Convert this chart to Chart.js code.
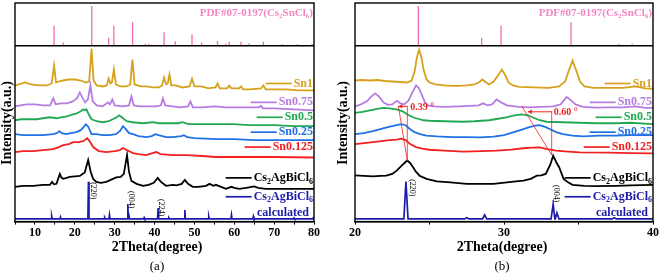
<!DOCTYPE html>
<html>
<head>
<meta charset="utf-8">
<script src="https://cdn.jsdelivr.net/npm/chart.js@4.4.1/dist/chart.umd.min.js"></script>
<style>
  body { margin: 0; background: #fff; }
  .panel { position: absolute; top: 0; height: 275px; }
</style>
</head>
<body>
<div class="panel" style="left:0;width:330px"><canvas id="chartA"></canvas></div>
<div class="panel" style="left:330px;width:331px"><canvas id="chartB"></canvas></div>
<script>
// ---------- data (2theta, intensity a.u. with stacking offset) ----------
const seriesNames = ['Sn1', 'Sn0.75', 'Sn0.5', 'Sn0.25', 'Sn0.125', 'Cs2AgBiCl6', 'Cs2AgBiCl6', 'calculated'];

// panel (a), 5-80 deg
const sn1A = [[5,137],[6,138],[7.5,140],[9,138],[11,137],[13,137],[14.2,139],[14.8,157],[15.3,140],[16,141],[17,142],[18.5,143],[20,143],[21.5,142],[22.8,140],[23.6,141],[24.2,174],[24.7,142],[25.5,137],[27,136],[28,137],[28.5,144],[28.9,139],[29.3,140],[29.8,153],[30.3,138],[31.5,136],[33,136],[33.9,138],[34.45,163],[35,138],[36.5,136],[38,136],[39.5,135],[41,135],[41.9,137],[42.4,145],[42.9,138],[43.3,139],[43.75,148],[44.2,137],[45.3,137],[47,135],[48.8,136],[49.4,144],[50,136],[51.8,136],[53.5,134],[55.3,135],[55.8,139],[56.4,134],[58.2,134],[58.75,137],[59.3,134],[61.2,134],[61.7,136],[62.2,133],[64,133],[66.7,134],[67.3,137],[67.9,133],[70,133],[73,133],[76,132],[80,132]];
const sn075A = [[5,116],[6.3,117],[8,118],[10,118],[12,117],[13.8,117],[14.6,124],[15.2,118],[16.5,119],[18,119],[19.5,121],[20.5,124],[21.25,130],[22,124],[22.6,120],[23.3,123],[23.9,137],[24.5,121],[25.5,117],[27,116],[28.3,120],[28.8,118],[29.4,123],[30,117],[32,116],[33.6,117],[34.2,126],[34.8,117],[36.5,116],[38.5,116],[40.5,116],[41.6,117],[42.1,124],[42.7,117],[44.5,116],[46.5,115],[48.4,116],[49,121],[49.6,115],[52,115],[55,116],[58,115],[62,115],[66.2,115],[66.7,116.5],[67.2,114],[70,114],[75,113],[80,112]];
const sn05A = [[5,102],[6.5,103],[8.75,103],[10.5,103],[12,104],[13.75,105],[15.4,104],[16.5,105],[18,106],[19.5,108],[20.5,109],[21.5,111],[22.1,113],[22.5,112],[22.9,113],[23.5,108],[24.2,103],[25.5,101],[27,100],[28.5,101],[29.5,103],[30.5,105],[31.1,107],[31.8,105],[33,101],[34.5,100],[37,99],[39.6,100],[41,99],[43.75,99],[46,99],[47,100],[48.5,98],[52,98],[56,98],[59.5,98],[64,97],[70,97],[75,96],[80,96]];
const sn025A = [[5,88],[7,87],[9.6,87],[12,87],[14.6,88],[15.5,89],[16.1,91],[16.7,89],[17.9,88],[19,89],[20.4,90],[21.5,92],[22.2,95],[22.75,98],[23.3,96],[24.2,88],[25.4,88],[27,87],[28.75,87],[30.3,88],[31.3,91],[32.1,96],[32.8,93],[33.6,89],[34.6,88],[36,86],[38,85],[39.3,86],[40.2,88],[41,87],[42.9,85],[44.5,85],[46.7,86],[47.4,87],[48.2,85],[50,84],[55.4,83],[60,83],[65,82],[70,82],[75,82],[80,82]];
const sn0125A = [[5,70],[7,71],[9.6,71],[12,72],[14.6,73],[16,75],[17.1,77],[18.5,78],[19.6,80],[21,80],[22.1,81],[23.1,84],[23.7,81],[24.6,75],[26,71],[27.9,70],[30,71],[31.3,72],[32.1,74],[33,72],[34.6,69],[36,68],[37.9,67],[39.5,69],[40.4,70],[41.5,68],[44.6,67],[48,67],[52,66],[55.4,65],[60,65],[70,65],[80,64.5]];
const expA = [[5,35],[7,36],[9.6,36],[12,37],[13.75,37],[14.3,40],[14.8,37.5],[15.4,38],[16.25,48],[16.7,44],[17.1,43],[18.75,45],[20,45.5],[21.25,46],[22.5,49.5],[23.35,62],[24,50],[24.6,43],[25.4,40],[26.5,39],[27.9,40],[29,42],[30.4,44.5],[31.5,45],[32.3,48],[33.1,67],[33.6,50],[34.2,41],[35.5,38],[37.1,36],[38.5,37],[39.8,39],[40.8,44],[41.6,40],[42.9,36],[44.6,37],[45.5,36.5],[46.8,38],[47.6,42],[48.4,38],[49.6,35],[51,35],[52.9,36],[53.8,38],[54.8,36],[55.4,37],[57.9,33],[59.3,35],[60,34],[61.25,33],[63,34],[65,35.5],[66,34],[67.9,33],[70,33],[75,33],[80,33]];

// panel (b), 20-40 deg
const sn1B = [[20,142],[20.5,142.5],[21,142],[21.5,142.5],[22,141.5],[22.5,141],[23,140.5],[23.5,140],[23.8,142],[24,151],[24.15,165],[24.3,173],[24.45,166],[24.6,153],[24.8,143],[25,140],[25.4,138],[26,137],[26.5,136.5],[27,136.5],[27.5,137],[28,138],[28.3,140],[28.55,143],[28.8,140],[29,138],[29.3,141],[29.6,147],[29.85,153],[30.1,147],[30.3,140],[30.6,137],[31,135.5],[32,135],[33,134.5],[33.7,136],[34.1,141],[34.35,152],[34.6,162],[34.85,152],[35.1,141],[35.4,136],[36,134.5],[37,134.5],[38,134.5],[38.8,136],[39.5,134],[40,133.7]];
const sn075B = [[20,116],[20.4,118],[20.8,121],[21.1,126],[21.35,129],[21.6,126],[21.9,120],[22.2,117.5],[22.5,118],[22.8,121.5],[23.05,119],[23.3,118],[23.6,122],[23.85,130],[24.1,137],[24.3,134],[24.5,127],[24.7,120],[24.9,117],[25.3,116],[26,115.5],[27,116],[27.7,116.5],[28.3,117],[28.6,119],[28.9,117],[29.2,118],[29.5,123],[29.8,120],[30.2,117],[31,115.5],[31.7,115],[32.5,115.5],[33.3,116],[33.8,118],[34.2,125.5],[34.5,122],[34.8,118],[35.3,115.5],[36.2,114.8],[37,115],[38,115],[38.8,116],[39.5,114.5],[40,114.5]];
const sn05B = [[20,109.5],[20.5,110.5],[21,112],[21.5,113.5],[21.9,114.5],[22.3,114],[22.8,113],[23.2,111],[23.5,108],[23.8,105.5],[24.1,104],[24.6,102],[25,101.5],[26,101],[27.25,100.5],[28,101],[29,102],[29.6,103.5],[30.15,105],[30.7,107],[31.2,108],[31.6,107],[31.9,105],[32.4,102],[32.85,100.5],[34,100],[35,99.5],[36.2,99],[37.5,99],[38.5,99.5],[40,98]];
const sn025B = [[20,88],[20.6,89],[21.2,91],[21.7,93],[22.2,95],[22.8,97],[23.1,98],[23.4,97],[23.7,93],[24,90],[24.35,88],[24.8,86.5],[25.5,85.7],[26.5,85],[27.5,85],[28.4,84.7],[29.3,85.5],[30,87],[30.6,89.7],[31.2,92.5],[31.7,95],[32.1,96.5],[32.4,97],[32.8,95],[33.1,93],[33.5,90],[33.95,88],[34.6,86.5],[35.3,85.7],[36.4,86.5],[37.5,86.5],[38.5,87],[40,87]];
const sn0125B = [[20,78],[20.6,79],[21.2,80],[21.8,81],[22.3,82],[22.8,82.5],[23.1,83.5],[23.4,82],[23.7,78],[24.1,75],[24.5,73.5],[25,72.3],[26,71.5],[27.25,70.5],[28.5,71],[29.5,71.5],[30.5,72.5],[31.3,73.8],[31.9,74.5],[32.4,74.7],[32.9,73],[33.5,71.5],[34.3,70.5],[35.1,69.7],[37,69.5],[38.5,69],[40,68.7]];
const expB = [[20,46.5],[20.6,46],[21.2,45.5],[21.7,46],[22.1,46.3],[22.5,48],[22.8,51.3],[23.05,55],[23.25,58],[23.5,61.5],[23.7,59],[23.9,54.7],[24.1,50],[24.35,46],[24.8,43],[25.5,40.5],[26.4,39.5],[27.5,38],[28.4,38],[29.3,38],[30.2,39.5],[30.8,40.5],[31.3,41.3],[31.8,43],[32.2,46.3],[32.5,46.5],[32.8,48],[33.1,57],[33.3,66.3],[33.5,60],[33.7,54.7],[34,43],[34.3,39.5],[34.6,37],[35.4,36],[36.2,35.7],[37.5,36],[38.5,36.5],[40,37]];

// calculated Cs2AgBiCl6 pattern (peak position, height)
const calcPos = [14.2, 16.4, 23.42, 27.5, 28.7, 33.3, 33.55, 37.4, 40.9, 43.6, 47.6, 53.6, 59.3, 64.8, 75, 79.8];
const calcInt = [2.7, 1.8, 37.5, 1.2, 4, 15, 6, 1.3, 11, 1, 9, 2.5, 4, 2.5, 1, 1];

// PDF#07-0197 Cs2SnCl6 reference sticks (relative intensity)
const pdfPos = [14.8, 17.1, 24.25, 28.5, 29.8, 34.5, 37.7, 38.6, 42.4, 45.2, 49.4, 51.8, 55.8, 57.9, 58.75, 61.7, 63.75, 67.3, 72, 75.75, 79.5];
const pdfInt = [50, 8, 100, 20, 50, 59, 5, 5, 34, 11, 29, 8, 12, 5, 10, 10, 6, 10, 4, 4, 5];

// ---------- styling ----------
const colors = ['#D6A11C', '#B67CE2', '#22A853', '#2071E6', '#F22121', '#000000', '#1C1CA8', '#1C1CA8'];
const PINK = '#F26BB5';
const DIVIDER = 177;     // y value of the line between PDF strip and patterns
const CALC_BASE = 2.7;
const SERIF = '"Liberation Serif", "Times New Roman", serif';

const toXY = arr => arr.map(p => ({x: p[0], y: p[1]}));

function sticks(pos, ints) {
  const out = [];
  pos.forEach((p, i) => {
    out.push({x: p, y: DIVIDER}, {x: p, y: DIVIDER + ints[i] * 0.4}, {x: p, y: null});
  });
  return out;
}

function calcLine(x0, x1) {
  const out = [{x: x0, y: CALC_BASE}, {x: x1, y: CALC_BASE}];
  calcPos.forEach((p, i) => {
    out.push({x: p - 0.14, y: CALC_BASE}, {x: p, y: CALC_BASE + calcInt[i]}, {x: p + 0.14, y: CALC_BASE});
  });
  return out.sort((a, b) => a.x - b.x);
}

function font(size, bold) {
  return (bold ? 'bold ' : '') + size + 'px ' + SERIF;
}

// text with subscripts: parts = [[text, isSub], ...]
function richWidth(ctx, parts, size) {
  let w = 0;
  parts.forEach(([t, sub]) => {
    ctx.font = font(sub ? Math.round(size * 0.68) : size, true);
    w += ctx.measureText(t).width;
  });
  return w;
}
function drawRich(ctx, parts, x, y, size, color) {
  ctx.fillStyle = color;
  ctx.textBaseline = 'middle';
  ctx.textAlign = 'left';
  parts.forEach(([t, sub]) => {
    ctx.font = font(sub ? Math.round(size * 0.68) : size, true);
    ctx.fillText(t, x, sub ? y + size * 0.3 : y);
    x += ctx.measureText(t).width;
  });
}

const csParts = [['Cs'], ['2', 1], ['AgBiCl'], ['6', 1]];
const legendParts = seriesNames.map(n => n === 'Cs2AgBiCl6' ? csParts : [[n]]);
const legendY = [139, 120, 105, 90, 75, 44, 25, 9];

function line(ctx, x1, y1, x2, y2) {
  ctx.beginPath(); ctx.moveTo(x1, y1); ctx.lineTo(x2, y2); ctx.stroke();
}

function decor(p) {
  return {
    id: 'decor',
    afterDraw(chart) {
      const {ctx, chartArea: a, scales: {x, y}} = chart;
      ctx.save();
      ctx.strokeStyle = '#000';
      ctx.lineWidth = 1.4;
      ctx.strokeRect(a.left, a.top, a.right - a.left, a.bottom - a.top);
      const yd = y.getPixelForValue(DIVIDER);
      line(ctx, a.left, yd, a.right, yd);

      // PDF card label
      const pdf = [['PDF#07-0197(Cs'], ['2', 1], ['SnCl'], ['6', 1], [')']];
      drawRich(ctx, pdf, a.right - 1 - richWidth(ctx, pdf, 11), a.top + 10, 11, '#F286C2');

      // legend inside plot
      legendParts.forEach((parts, i) => {
        const w = richWidth(ctx, parts, 12);
        const inset = i === 7 ? 5 : 1;
        const tx = a.right - inset - w;
        const ty = y.getPixelForValue(legendY[i]);
        if (i < 7) {
          ctx.strokeStyle = colors[i];
          ctx.lineWidth = 1.7;
          line(ctx, tx - 28, ty, tx - 2, ty);
        }
        drawRich(ctx, parts, tx, ty, 12, colors[i]);
      });

      // hkl labels
      ctx.fillStyle = '#000';
      ctx.font = font(8, false);
      ctx.textAlign = 'center';
      ctx.textBaseline = 'middle';
      p.hkl.forEach(([t, pos, dx, h]) => {
        ctx.save();
        ctx.translate(x.getPixelForValue(pos) + dx, y.getPixelForValue(h));
        ctx.rotate(Math.PI / 2);
        ctx.fillText(t, 0, 0);
        ctx.restore();
      });

      // axis titles and caption
      ctx.font = font(14, true);
      ctx.fillText('2Theta(degree)', p.titleX, 247);
      ctx.save();
      ctx.translate(p.yTitleX, 123);
      ctx.rotate(-Math.PI / 2);
      ctx.fillText('Intensity(a.u.)', 0, 0);
      ctx.restore();
      ctx.font = font(13, false);
      ctx.fillText(p.caption, p.titleX, 267);

      // peak shift annotations
      (p.shifts || []).forEach(s => {
        const px = v => x.getPixelForValue(v), py = v => y.getPixelForValue(v);
        ctx.strokeStyle = '#F22121';
        ctx.lineWidth = 0.8;
        line(ctx, px(s.top), py(s.h0), px(s.peak), py(s.h1));
        line(ctx, px(s.peak), py(s.hv), px(s.peak), py(s.h1));
        const ax0 = px(s.peak), ax1 = px(s.arrowTo), ay = py(s.ha);
        ctx.lineWidth = 1;
        line(ctx, ax0, ay, ax1, ay);
        ctx.fillStyle = '#F22121';
        ctx.beginPath();
        ctx.moveTo(ax1, ay); ctx.lineTo(ax1 + 4, ay - 2.2); ctx.lineTo(ax1 + 4, ay + 2.2);
        ctx.closePath(); ctx.fill();
        ctx.font = font(10, true);
        ctx.textAlign = 'left';
        ctx.fillText(s.label, px(s.peak) + s.labelDx, ay + 1);
        ctx.textAlign = 'center';
      });
      ctx.restore();
    }
  };
}

function makeChart(id, cfg) {
  const traces = cfg.traces.map((d, i) => ({
    label: seriesNames[i],
    data: toXY(d),
    borderColor: colors[i],
    borderWidth: 1.8,
    pointRadius: 0,
    tension: 0
  }));
  traces.push({label: 'calculated', data: calcLine(cfg.min, cfg.max), borderColor: colors[6], borderWidth: 1.7, pointRadius: 0});
  traces.unshift({label: 'PDF#07-0197', data: sticks(pdfPos, pdfInt), borderColor: PINK, borderWidth: 1.3, pointRadius: 0, spanGaps: false});

  new Chart(document.getElementById(id), {
    type: 'line',
    data: {datasets: traces},
    plugins: [decor(cfg)],
    options: {
      responsive: true,
      maintainAspectRatio: false,
      animation: false,
      layout: {padding: cfg.padding},
      plugins: {legend: {display: false}, tooltip: {enabled: false}},
      scales: {
        x: {
          type: 'linear',
          min: cfg.min,
          max: cfg.max,
          border: {display: true, color: '#000', width: 1.4},
          grid: {drawOnChartArea: false, color: '#000', tickLength: 3},
          ticks: {
            stepSize: 5,
            autoSkip: false,
            maxRotation: 0,
            padding: 1,
            color: '#000',
            font: {family: SERIF, size: 12, weight: 'bold'},
            callback: v => (v % 10 === 0 ? v : '')
          }
        },
        y: {type: 'linear', min: 0, max: 220, display: false}
      }
    }
  });
}

makeChart('chartA', {
  min: 5, max: 80,
  traces: [sn1A, sn075A, sn05A, sn025A, sn0125A, expA],
  padding: {left: 15, right: 16, top: 3, bottom: 34},
  titleX: 157, yTitleX: 7, caption: '(a)',
  hkl: [['(220)', 23.42, 4.5, 31], ['(004)', 33.3, 3.5, 22], ['(224)', 40.9, 3, 14]]
});

makeChart('chartB', {
  min: 20, max: 40,
  traces: [sn1B, sn075B, sn05B, sn025B, sn0125B, expB],
  padding: {left: 25, right: 8, top: 3, bottom: 34},
  titleX: 172, yTitleX: 13, caption: '(b)',
  hkl: [['(220)', 23.42, 6.5, 34], ['(004)', 33.3, 3, 28]],
  shifts: [
    {top: 22.91, peak: 23.51, h0: 116.3, h1: 61.3, hv: 116.3, ha: 116, arrowTo: 22.91, label: '0.39 °', labelDx: 3},
    {top: 31.19, peak: 33.2, h0: 116.3, h1: 67, hv: 111.3, ha: 110.5, arrowTo: 31.6, label: '0.60 °', labelDx: 2}
  ]
});
</script>
</body>
</html>
